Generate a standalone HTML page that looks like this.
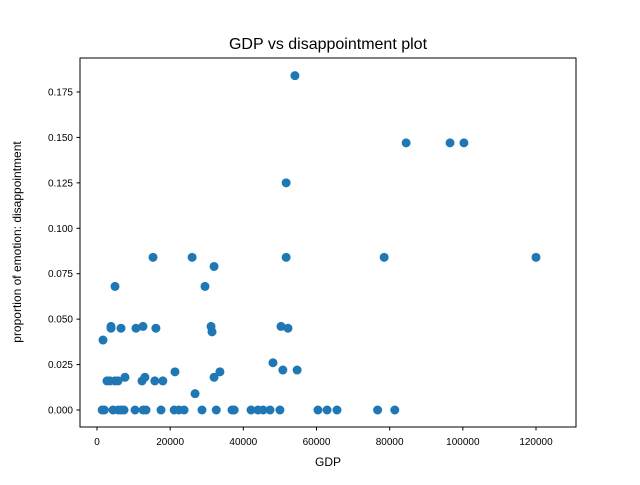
<!DOCTYPE html>
<html><head><meta charset="utf-8"><style>
body{margin:0;background:#fff;font-family:"Liberation Sans","DejaVu Sans",sans-serif;}
</style></head><body>
<svg width="640" height="480" viewBox="0 0 640 480">
<rect width="640" height="480" fill="#fff"/>
<text x="328" y="49" text-anchor="middle" font-size="16">GDP vs disappointment plot</text>
<g id="plot"></g>
<rect x="80" y="58" width="496" height="369" fill="none" stroke="#000" stroke-width="1"/>
<text x="328" y="466" text-anchor="middle" font-size="12">GDP</text>
<text transform="translate(21,242) rotate(-90)" text-anchor="middle" font-size="12">proportion of emotion: disappointment</text>
</svg>
<script>
const gdp=[1640,1400,2000,2730,3550,3830,3830,4370,4920,4920,5740,5740,6560,6560,7380,7650,10660,10400,12300,12570,13100,13400,12600,15310,15800,16100,17500,18000,21320,21100,22400,23800,26000,26800,28700,29520,31170,31440,32000,32000,32600,33600,36900,37500,42100,44000,45400,47300,50000,48100,50300,50800,51700,51700,52200,54100,54700,60400,62900,65600,76700,81400,78500,84500,96500,100300,120000];
const disappointment=[0.0385,0,0,0.016,0.016,0.045,0.046,0,0.016,0.068,0.016,0,0,0.045,0,0.018,0.045,0,0.016,0.046,0.018,0,0,0.084,0.016,0.045,0,0.016,0.021,0,0,0,0.084,0.009,0,0.068,0.046,0.043,0.079,0.018,0,0.021,0,0,0,0,0,0,0,0.026,0.046,0.022,0.084,0.125,0.045,0.184,0.022,0,0,0,0,0,0.084,0.147,0.147,0.147,0.084];
const xTicks=[0,20000,40000,60000,80000,100000,120000];
const yTicks=[0,0.025,0.05,0.075,0.1,0.125,0.15,0.175];
const NS="http://www.w3.org/2000/svg";
const xs=v=>97+v*(439/120000);
const ys=v=>410-v*(318/0.175);
const g=document.getElementById('plot');
function mk(t,a){const e=document.createElementNS(NS,t);for(const k in a)e.setAttribute(k,a[k]);g.appendChild(e);return e;}
xTicks.forEach(t=>{
 const l=mk('line',{x1:xs(t),x2:xs(t),y1:427,y2:430.5,stroke:'#000'});
 
 
 const tx=mk('text',{x:xs(t),y:445,'text-anchor':'middle','font-size':'10'});
 tx.textContent=String(t);
 
 
});
yTicks.forEach(t=>{
 const l=mk('line',{x1:76.5,x2:80,y1:ys(t),y2:ys(t),stroke:'#000'});
 
 
 const tx=mk('text',{x:73,y:ys(t)+3.5,'text-anchor':'end','font-size':'10'});
 tx.textContent=t.toFixed(3);
 
 
});
gdp.forEach((v,i)=>{
 const c=mk('circle',{cx:xs(v),cy:ys(disappointment[i]),r:4.5,fill:'#1f77b4'});
 
 
});
</script>
</body></html>
